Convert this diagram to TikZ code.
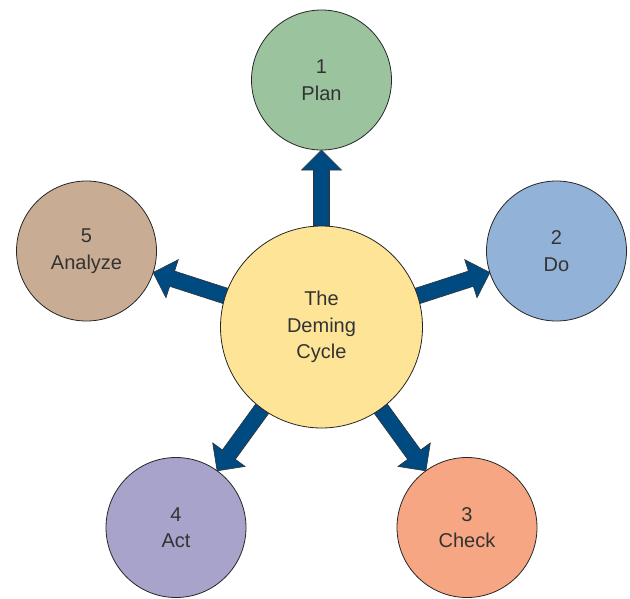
\documentclass[tikz,border=0pt]{standalone}
\usepackage{fontspec}
\setmainfont{Liberation Sans}
\usetikzlibrary{calc}
\definecolor{plancol}{HTML}{9BC49E}
\definecolor{docol}{HTML}{92B2D8}
\definecolor{checkcol}{HTML}{F6A682}
\definecolor{actcol}{HTML}{A7A3CA}
\definecolor{anacol}{HTML}{C8AC93}
\definecolor{cencol}{HTML}{FDE497}
\definecolor{arrcol}{HTML}{004A82}
\definecolor{txtcol}{HTML}{333333}
\tikzset{
  stage/.style={circle, draw=black!85, line width=0.8pt, minimum size=140pt, inner sep=0pt,
    align=center, text=txtcol, font=\fontsize{20}{26.5}\selectfont},
  hub/.style={stage, minimum size=202pt},
  blockarrow/.style={fill=arrcol, draw=black!80, line width=0.6pt, line join=miter}
}
\newcommand{\blockarrow}[2]{%
  \coordinate (S) at (#1);
  \coordinate (T) at ($(#2)!70pt!(#1)$);
  \coordinate (H) at ($(T)!20pt!(S)$);
  \draw[blockarrow] ($(S)!8pt!90:(T)$) -- ($(H)!8pt!-90:(S)$) -- ($(H)!20pt!-90:(S)$) -- (T)
    -- ($(H)!20pt!90:(S)$) -- ($(H)!8pt!90:(S)$) -- ($(S)!8pt!-90:(T)$) -- cycle;}
\begin{document}
\begin{tikzpicture}[x=1pt,y=-1pt]
\useasboundingbox (0,0) rectangle (630,598);
\coordinate (c) at (321.5,327);
\coordinate (pp) at (321.5,80);
\coordinate (pd) at (556.5,251);
\coordinate (pc) at (467,527.5);
\coordinate (pa) at (176,527.5);
\coordinate (pn) at (86.5,251);
\blockarrow{c}{pp}
\blockarrow{c}{pd}
\blockarrow{c}{pc}
\blockarrow{c}{pa}
\blockarrow{c}{pn}
\node[hub, fill=cencol] (hub) at (c) {The\\Deming\\Cycle};
\node[stage, fill=plancol] (plan) at (pp) {1\\Plan};
\node[stage, fill=docol] (do) at (pd) {2\\Do};
\node[stage, fill=checkcol] (check) at (pc) {3\\Check};
\node[stage, fill=actcol] (act) at (pa) {4\\Act};
\node[stage, fill=anacol] (analyze) at (pn) {5\\Analyze};
\end{tikzpicture}
\end{document}
